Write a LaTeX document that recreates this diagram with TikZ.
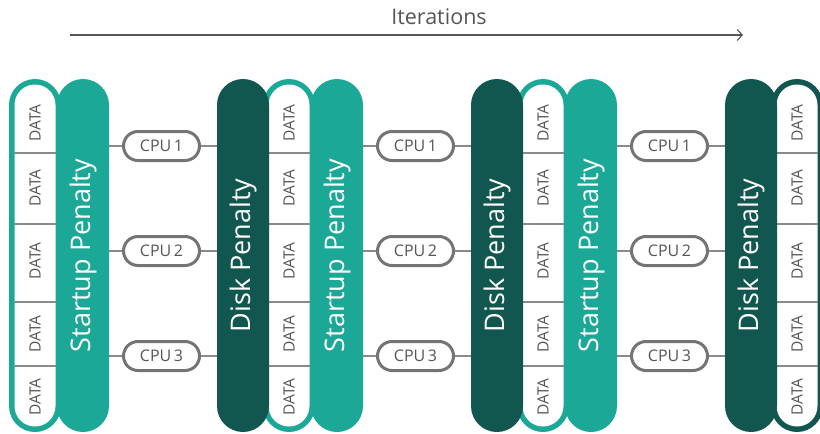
\documentclass[tikz,border=0pt]{standalone}
\usepackage{fontspec}
\setmainfont{Open Sans}
\usetikzlibrary{arrows.meta,calc}
\definecolor{tealA}{HTML}{1BA896}
\definecolor{tealD}{HTML}{115750}
\definecolor{txtgray}{HTML}{555555}
\definecolor{boxgray}{HTML}{747474}
\definecolor{linegray}{HTML}{8A8A8A}
\begin{document}
\begin{tikzpicture}[x=1pt,y=-1pt,
  pillbox/.style={minimum width=52pt, minimum height=353pt, inner sep=0pt, rounded corners=26pt, text=white, font=\fontsize{27}{30}\selectfont},
  dataouter/.style={minimum width=52pt, minimum height=353pt, inner sep=0pt, rounded corners=26pt},
  datainner/.style={minimum width=41pt, minimum height=342pt, inner sep=0pt, rounded corners=20.5pt, fill=white},
  divider/.style={draw=linegray, line width=1.2pt},
  datatxt/.style={inner sep=0pt, text=txtgray, font=\fontsize{15.5}{17}\selectfont},
  cpubox/.style={draw=boxgray, fill=white, line width=3pt, minimum width=76pt, minimum height=29pt, inner sep=0pt, rounded corners=14.5pt, text=txtgray, font=\fontsize{16}{18}\selectfont},
  conn/.style={draw=linegray, line width=1.5pt}]
\useasboundingbox (0,0) rectangle (820,434);
\clip (0,0) rectangle (820,434);
% iterations arrow
\coordinate (a0) at (70,35);
\coordinate (a1) at (743,35);
\draw[-{Straight Barb[length=5pt,width=11pt]}, draw=txtgray, line width=1.1pt] (a0) -- (a1);
\node[text=txtgray, font=\fontsize{21.5}{24}\selectfont, inner sep=0pt] (iter) at (439,17) {Iterations};
% data pills
\foreach \i/\col in {0/tealA,1/tealA,2/tealA,3/tealD}{
  \pgfmathsetmacro{\cx}{35+254*\i}
  \node[dataouter, fill=\col] (d\i) at (\cx,255.5) {};
  \node[datainner] (di\i) at (\cx,255.5) {};
  \foreach \y in {153,224,302,366}{
    \draw[divider] (di\i.west |- 0,\y) -- (di\i.east |- 0,\y);
  }
  \foreach \y/\k in {123/1,188/2,261/3,334/4,397/5}{
    \node[datatxt] (dt\i\k) at (\cx,\y) {\rotatebox{90}{DATA}};
  }
}
% startup and disk pills, CPUs
\foreach \i in {0,1,2}{
  \pgfmathsetmacro{\sx}{83+254*\i}
  \pgfmathsetmacro{\kx}{243+254*\i}
  \pgfmathsetmacro{\cx}{161.5+254*\i}
  \node[pillbox, fill=tealA] (s\i) at (\sx,255.5) {\rotatebox{90}{Startup Penalty}};
  \node[pillbox, fill=tealD] (k\i) at (\kx,255.5) {\rotatebox{90}{Disk Penalty}};
  \foreach \y/\j in {146/1,251/2,356/3}{
    \node[cpubox] (c\i\j) at (\cx,\y) {CPU\,\j};
    \draw[conn] (c\i\j.west) -- (c\i\j.west -| s\i.east);
    \draw[conn] (c\i\j.east) -- (c\i\j.east -| k\i.west);
  }
}
\end{tikzpicture}
\end{document}
